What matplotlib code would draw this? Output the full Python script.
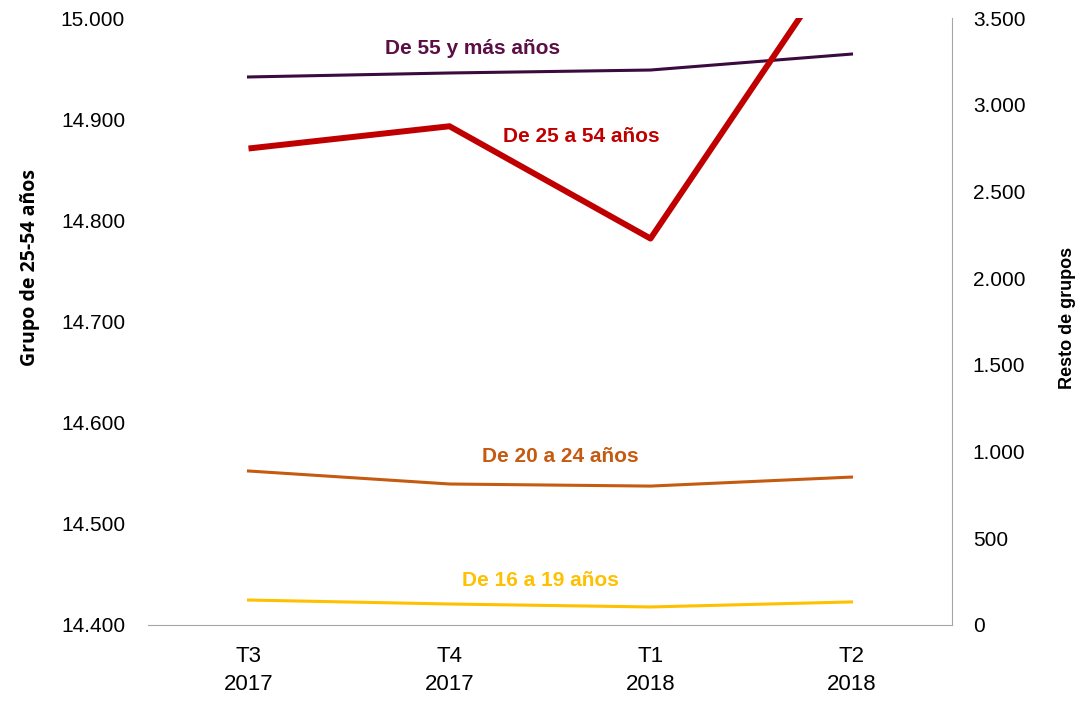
import matplotlib
matplotlib.use("Agg")
import matplotlib.pyplot as plt

periods = ["T3\n2017", "T4\n2017", "T1\n2018", "T2\n2018"]
g25_54 = [14871, 14893, 14782, 15076]
g55_mas = [3160, 3183, 3200, 3292]
g20_24 = [888, 813, 801, 853]
g16_19 = [144, 121, 104, 133]

left_ticks = [14400, 14500, 14600, 14700, 14800, 14900, 15000]
right_ticks = [0, 500, 1000, 1500, 2000, 2500, 3000, 3500]

def fmt(v):
    return f"{v:,.0f}".replace(",", ".")

c55 = "#3B0A3E"
c55t = "#5C0F45"
c25 = "#C00000"
c20 = "#C55A11"
c16 = "#FFC000"
gray = "#A6A6A6"
fontname = "Liberation Sans"

fig = plt.figure(figsize=(10.82, 7.01), dpi=100)
ax = fig.add_axes([148/1082, 76/701, 804/1082, 607/701])
ax2 = ax.twinx()

x = list(range(len(periods)))
ax.plot(x, g25_54, color=c25, lw=4.3, solid_capstyle="butt", zorder=3)
ax2.plot(x, g55_mas, color=c55, lw=2.2)
ax2.plot(x, g20_24, color=c20, lw=2.2)
ax2.plot(x, g16_19, color=c16, lw=2.2)
ax.set_zorder(2)
ax.patch.set_visible(False)

ax.set_xlim(-0.5, 3.5)
ax.set_ylim(14400, 15000)
ax2.set_ylim(0, 3500)
ax.set_yticks(left_ticks)
ax.set_yticklabels([fmt(v) for v in left_ticks], fontname=fontname, fontsize=15)
ax2.set_yticks(right_ticks)
ax2.set_yticklabels([fmt(v) for v in right_ticks], fontname=fontname, fontsize=15)
ax.set_xticks(x)
ax.set_xticklabels(periods, fontname=fontname, fontsize=16, linespacing=1.42)

for a in (ax, ax2):
    for s in ("top", "left", "right", "bottom"):
        a.spines[s].set_visible(False)
    a.tick_params(length=0)
ax2.spines["right"].set_visible(True)
ax2.spines["right"].set_color(gray)
ax2.spines["bottom"].set_visible(True)
ax2.spines["bottom"].set_color(gray)
ax.tick_params(axis="y", pad=16.5)
ax2.tick_params(axis="y", pad=15)
ax.tick_params(axis="x", pad=15)

ax.text(0.404, 0.949, "De 55 y más años", transform=ax.transAxes, ha="center", va="center",
        color=c55t, fontsize=15, fontweight="bold", fontname=fontname)
ax.text(0.5386, 0.8056, "De 25 a 54 años", transform=ax.transAxes, ha="center", va="center",
        color=c25, fontsize=15, fontweight="bold", fontname=fontname)
ax.text(0.5124, 0.2768, "De 20 a 24 años", transform=ax.transAxes, ha="center", va="center",
        color=c20, fontsize=15, fontweight="bold", fontname=fontname)
ax.text(0.4876, 0.0725, "De 16 a 19 años", transform=ax.transAxes, ha="center", va="center",
        color=c16, fontsize=15, fontweight="bold", fontname=fontname)

fig.text(30/1082, 1 - 268/701, "Grupo de 25-54 años", rotation=90, ha="center", va="center",
         fontsize=14, fontweight="bold", fontname="Open Sans")
fig.text(1068/1082, 1 - 318/701, "Resto de grupos", rotation=90, ha="center", va="center",
         fontsize=13, fontweight="bold", fontname=fontname)

fig.savefig("out.png", dpi=100)
